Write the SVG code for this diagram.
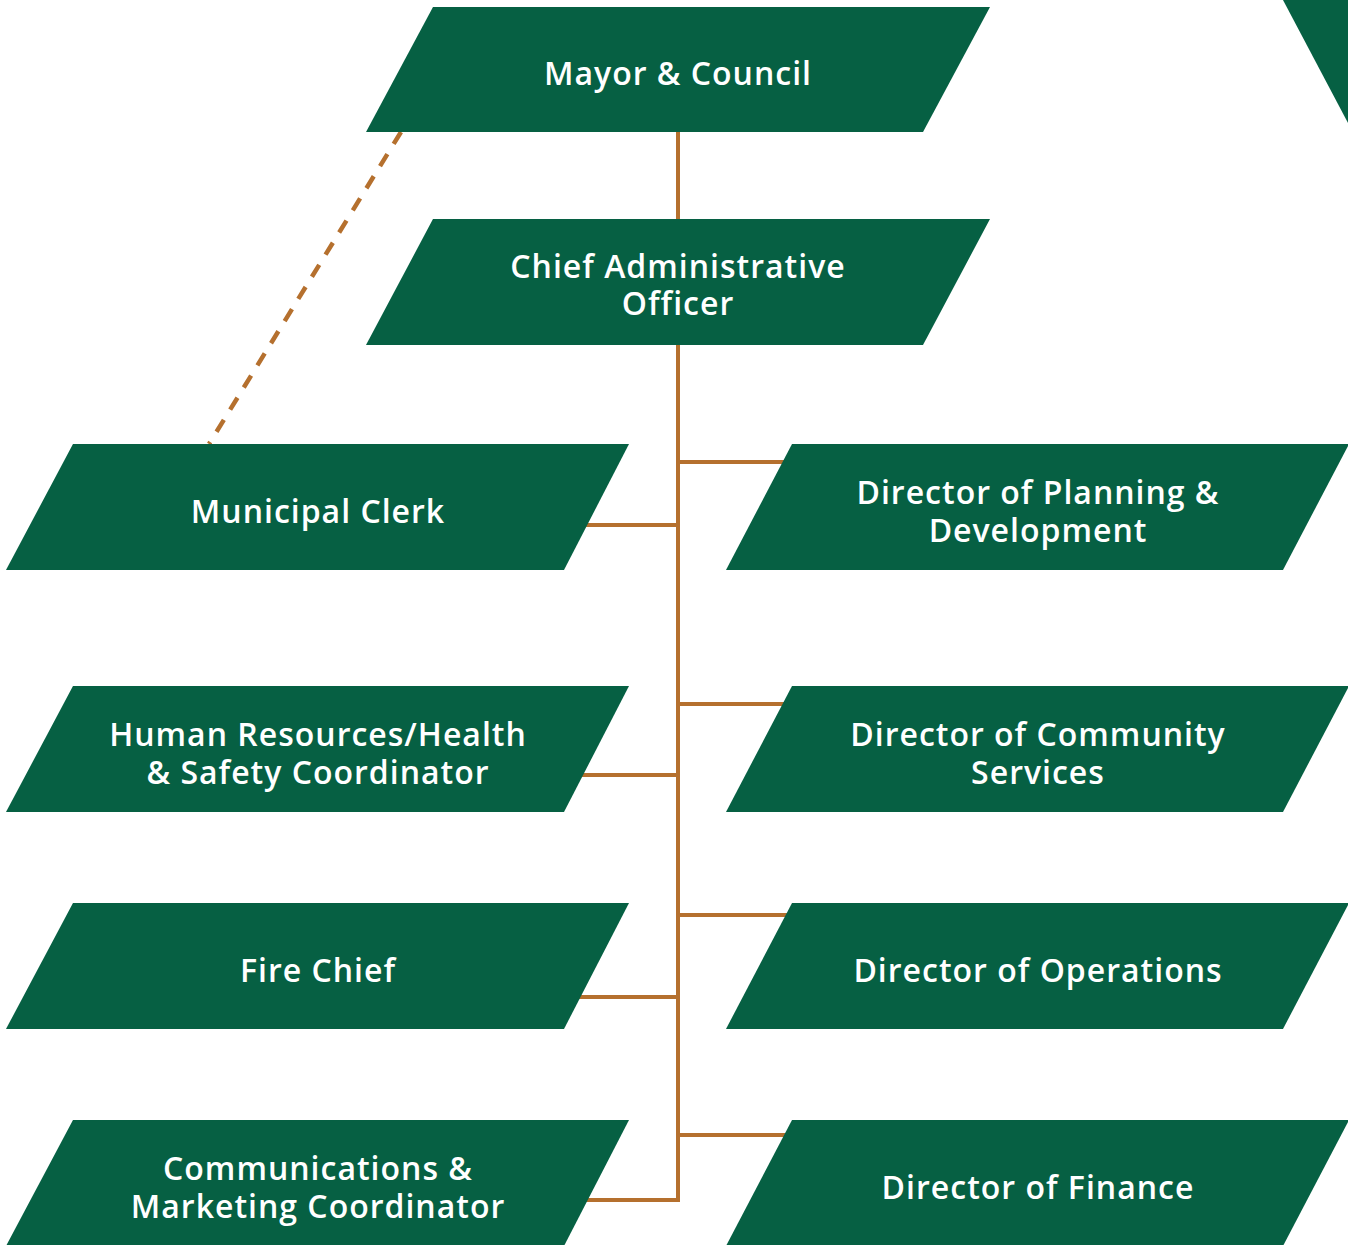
<svg xmlns="http://www.w3.org/2000/svg" width="1348" height="1245" viewBox="0 0 1348 1245">
<style>
.node{fill:#066043;}
.lbl{fill:#ffffff;font-family:"Open Sans","Noto Sans",sans-serif;font-weight:600;font-size:32px;letter-spacing:1px;text-anchor:middle;}
.conn{stroke:#B5702E;stroke-width:4;fill:none;}
.dash{stroke:#B5702E;stroke-width:4.5;fill:none;stroke-dasharray:14 12;}
</style>
<rect x="0" y="0" width="1348" height="1245" fill="#ffffff"/>
<g id="connectors">
<line class="dash" x1="401" y1="132" x2="209" y2="444"/>
<polyline class="conn" points="678,132 678,1202"/>
<line class="conn" x1="678" y1="462" x2="800" y2="462"/>
<line class="conn" x1="580" y1="525" x2="678" y2="525"/>
<line class="conn" x1="678" y1="704" x2="800" y2="704"/>
<line class="conn" x1="575" y1="775" x2="678" y2="775"/>
<line class="conn" x1="678" y1="915" x2="800" y2="915"/>
<line class="conn" x1="570" y1="997" x2="678" y2="997"/>
<line class="conn" x1="678" y1="1135" x2="800" y2="1135"/>
<polyline class="conn" points="580,1200 680,1200"/>
</g>
<g id="offpage">
<polygon class="node" points="1283,0 1348,0 1348,123"/>
</g>
<g id="mayor">
<polygon class="node" points="433,7 990,7 923,132 366,132"/>
<text class="lbl" x="678" y="85">Mayor &amp; Council</text>
</g>
<g id="cao">
<polygon class="node" points="433,219 990,219 923,345 366,345"/>
<text class="lbl" x="678" y="278">Chief Administrative</text>
<text class="lbl" x="678" y="315">Officer</text>
</g>
<g id="clerk">
<polygon class="node" points="73,444 629,444 564,570 6,570"/>
<text class="lbl" x="318" y="523">Municipal Clerk</text>
</g>
<g id="hr">
<polygon class="node" points="73,686 629,686 564,812 6,812"/>
<text class="lbl" x="318" y="746">Human Resources/Health</text>
<text class="lbl" x="318" y="784">&amp; Safety Coordinator</text>
</g>
<g id="fire">
<polygon class="node" points="73,903 629,903 564,1029 6,1029"/>
<text class="lbl" x="318" y="982">Fire Chief</text>
</g>
<g id="comms">
<polygon class="node" points="73,1120 629,1120 564,1246 6,1246"/>
<text class="lbl" x="318" y="1180">Communications &amp;</text>
<text class="lbl" x="318" y="1218">Marketing Coordinator</text>
</g>
<g id="planning">
<polygon class="node" points="792,444 1349,444 1283,570 726,570"/>
<text class="lbl" x="1038" y="504">Director of Planning &amp;</text>
<text class="lbl" x="1038" y="542">Development</text>
</g>
<g id="community">
<polygon class="node" points="792,686 1349,686 1283,812 726,812"/>
<text class="lbl" x="1038" y="746">Director of Community</text>
<text class="lbl" x="1038" y="784">Services</text>
</g>
<g id="operations">
<polygon class="node" points="792,903 1349,903 1283,1029 726,1029"/>
<text class="lbl" x="1038" y="982">Director of Operations</text>
</g>
<g id="finance">
<polygon class="node" points="792,1120 1349,1120 1283,1246 726,1246"/>
<text class="lbl" x="1038" y="1199">Director of Finance</text>
</g>
</svg>
